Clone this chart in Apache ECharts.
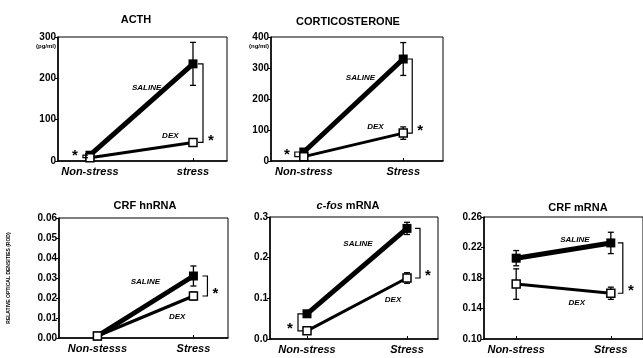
<!DOCTYPE html>
<html><head><meta charset="utf-8">
<script src="https://cdn.jsdelivr.net/npm/echarts@6/dist/echarts.min.js"></script>
<style>html,body{margin:0;padding:0;background:#fff}#c{width:643px;height:358px}</style>
</head><body><div id="c"></div>
<script>
// ---- data ----
const acthCats = ['Non-stress', 'stress'];
const acthSaline = [14, 235];
const acthSalineErr = [4, 52];
const acthDex = [8, 45];
const acthDexErr = [2, 6];

const corticoCats = ['Non-stress', 'Stress'];
const corticoSaline = [29, 329];
const corticoSalineErr = [6, 53];
const corticoDex = [14, 90];
const corticoDexErr = [4, 20];

const crfHnCats = ['Non-stesss', 'Stress'];
const crfHnSaline = [0.001, 0.031];
const crfHnSalineErr = [0.0005, 0.005];
const crfHnDex = [0.001, 0.021];
const crfHnDexErr = [0.0005, 0.002];

const cfosCats = ['Non-stress', 'Stress'];
const cfosSaline = [0.062, 0.272];
const cfosSalineErr = [0.004, 0.015];
const cfosDex = [0.020, 0.150];
const cfosDexErr = [0.003, 0.013];

const crfCats = ['Non-stress', 'Stress'];
const crfSaline = [0.206, 0.226];
const crfSalineErr = [0.010, 0.014];
const crfDex = [0.172, 0.160];
const crfDexErr = [0.020, 0.008];

// significance brackets: category index (between saline and dex values at that category)
const acthSig = [0, 1];
const corticoSig = [0, 1];
const crfHnSig = [1];
const cfosSig = [0, 1];
const crfSig = [1];

// ---- layout / style ----
const panels = [
  { title: [{text:'ACTH'}], tx: 136, ty: 14,
    grid: {left:58, top:37, width:169, height:124}, xMin:-0.31, xMax:1.33,
    yMin:0, yMax:300, yInt:100, dec:0, cats: acthCats,
    saline: acthSaline, salineErr: acthSalineErr, dex: acthDex, dexErr: acthDexErr,
    sig: acthSig, sigOff: [-7, 10], unit: '(pg/ml)',
    lab: [[0.55, 177], [0.78, 60]] },
  { title: [{text:'CORTICOSTERONE'}], tx: 348, ty: 16,
    grid: {left:271, top:37, width:172, height:124}, xMin:-0.33, xMax:1.40,
    yMin:0, yMax:400, yInt:100, dec:0, cats: corticoCats,
    saline: corticoSaline, salineErr: corticoSalineErr, dex: corticoDex, dexErr: corticoDexErr,
    sig: corticoSig, sigOff: [-9, 9], unit: '(ng/ml)',
    lab: [[0.57, 268], [0.72, 110]] },
  { title: [{text:'CRF hnRNA'}], tx: 145, ty: 200,
    grid: {left:59, top:218, width:169, height:120}, xMin:-0.40, xMax:1.36,
    yMin:0, yMax:0.06, yInt:0.01, dec:2, cats: crfHnCats,
    saline: crfHnSaline, salineErr: crfHnSalineErr, dex: crfHnDex, dexErr: crfHnDexErr,
    sig: crfHnSig, sigOff: [0, 14], yName: 'RELATIVE OPTICAL DENSITIES (ROD)',
    lab: [[0.50, 0.028], [0.83, 0.0105]] },
  { title: [{text:'c-fos', italic:true}, {text:' mRNA'}], tx: 348, ty: 200,
    grid: {left:270, top:217, width:168, height:122}, xMin:-0.37, xMax:1.31,
    yMin:0, yMax:0.3, yInt:0.1, dec:1, cats: cfosCats,
    saline: cfosSaline, salineErr: cfosSalineErr, dex: cfosDex, dexErr: cfosDexErr,
    sig: cfosSig, sigOff: [-9, 13],
    lab: [[0.51, 0.234], [0.86, 0.096]] },
  { title: [{text:'CRF mRNA'}], tx: 578, ty: 202,
    grid: {left:484, top:217, width:168, height:122}, xMin:-0.34, xMax:1.34,
    yMin:0.10, yMax:0.26, yInt:0.04, dec:2, cats: crfCats,
    saline: crfSaline, salineErr: crfSalineErr, dex: crfDex, dexErr: crfDexErr,
    sig: crfSig, sigOff: [0, 12],
    lab: [[0.62, 0.230], [0.64, 0.147]] }
];

const FONT = 'Liberation Sans, Arial, sans-serif';
const grids = [], xAxes = [], yAxes = [], series = [], graphics = [];

panels.forEach((p, k) => {
  grids.push(Object.assign({show: true, borderColor: '#000', borderWidth: 1, backgroundColor: 'transparent'}, p.grid));
  xAxes.push({
    type: 'value', gridIndex: k, min: p.xMin, max: p.xMax,
    splitLine: {show: false},
    axisLine: {show: true, onZero: false, lineStyle: {color: '#000', width: 1.5}},
    axisTick: {show: true, customValues: [0, 1], length: 3, inside: true, lineStyle: {color: '#000'}},
    axisLabel: {show: true, customValues: [0, 1], formatter: v => p.cats[Math.round(v)],
      color: '#000', fontFamily: FONT, fontWeight: 'bold', fontStyle: 'italic', fontSize: 11, margin: 5}
  });
  yAxes.push({
    type: 'value', gridIndex: k, min: p.yMin, max: p.yMax, interval: p.yInt,
    splitLine: {show: false},
    axisLine: {show: true, onZero: false, lineStyle: {color: '#000', width: 1.5}},
    axisTick: {show: true, length: 3, lineStyle: {color: '#000'}},
    axisLabel: {color: '#000', fontFamily: FONT, fontWeight: 'bold', fontSize: 10, margin: 2,
      formatter: v => v.toFixed(p.dec)},
    name: p.yName || '', nameLocation: 'middle', nameGap: 48,
    nameTextStyle: {fontSize: 5, fontWeight: 'bold', fontFamily: FONT, color: '#000'}
  });

  // error bars
  const errData = [];
  [0, 1].forEach(i => {
    errData.push([i, p.saline[i], p.salineErr[i]]);
    errData.push([i, p.dex[i], p.dexErr[i]]);
  });
  series.push({
    type: 'custom', xAxisIndex: k, yAxisIndex: k, z: 1, silent: true,
    data: errData,
    renderItem: (params, api) => {
      const x = api.value(0), y = api.value(1), e = api.value(2);
      const hi = api.coord([x, y + e]), lo = api.coord([x, y - e]);
      const st = {stroke: '#000', lineWidth: 1.3};
      return {type: 'group', children: [
        {type: 'line', shape: {x1: hi[0], y1: hi[1], x2: lo[0], y2: lo[1]}, style: st},
        {type: 'line', shape: {x1: hi[0] - 3, y1: hi[1], x2: hi[0] + 3, y2: hi[1]}, style: st},
        {type: 'line', shape: {x1: lo[0] - 3, y1: lo[1], x2: lo[0] + 3, y2: lo[1]}, style: st}
      ]};
    }
  });
  // saline
  series.push({
    type: 'line', xAxisIndex: k, yAxisIndex: k, z: 3,
    data: p.saline.map((v, i) => [i, v]),
    symbol: 'rect', symbolSize: 9, showSymbol: true,
    lineStyle: {color: '#000', width: 5}, itemStyle: {color: '#000'}
  });
  // dex
  series.push({
    type: 'line', xAxisIndex: k, yAxisIndex: k, z: 4,
    data: p.dex.map((v, i) => [i, v]),
    symbol: 'rect', symbolSize: 8, showSymbol: true,
    lineStyle: {color: '#000', width: 3},
    itemStyle: {color: '#fff', borderColor: '#000', borderWidth: 1.5}
  });
  // significance brackets
  series.push({
    type: 'custom', xAxisIndex: k, yAxisIndex: k, z: 5, silent: true,
    data: p.sig.map(i => [i, Math.max(p.saline[i], p.dex[i]), Math.min(p.saline[i], p.dex[i])]),
    renderItem: (params, api) => {
      const i = api.value(0);
      const off = p.sigOff[i];
      const dir = off >= 0 ? 1 : -1;
      const a = api.coord([i, api.value(1)]), b = api.coord([i, api.value(2)]);
      const bx = a[0] + off;
      const t = 5;
      return {type: 'group', children: [
        {type: 'polyline', shape: {points: [[bx - dir * t, a[1]], [bx, a[1]], [bx, b[1]], [bx - dir * t, b[1]]]},
          style: {stroke: '#000', lineWidth: 1.2, fill: null}},
        {type: 'text', x: bx + dir * 8, y: b[1] - 2,
          style: {text: '*', fill: '#000', font: 'bold 15px ' + FONT, align: 'center', verticalAlign: 'middle'}}
      ]};
    }
  });
  // group labels
  series.push({
    type: 'custom', xAxisIndex: k, yAxisIndex: k, z: 6, silent: true,
    data: [[p.lab[0][0], p.lab[0][1], 0], [p.lab[1][0], p.lab[1][1], 1]],
    renderItem: (params, api) => {
      const c = api.coord([api.value(0), api.value(1)]);
      return {type: 'text', x: c[0], y: c[1],
        style: {text: api.value(2) === 0 ? 'SALINE' : 'DEX', fill: '#000',
          font: 'italic bold 8px ' + FONT, align: 'center', verticalAlign: 'middle'}};
    }
  });

  // title
  const rich = {n: {fontWeight: 'bold', fontSize: 11, fontFamily: FONT, color: '#000'},
                i: {fontWeight: 'bold', fontStyle: 'italic', fontSize: 11, fontFamily: FONT, color: '#000'}};
  graphics.push({type: 'text', x: p.tx, y: p.ty,
    style: {text: p.title.map(s => '{' + (s.italic ? 'i' : 'n') + '|' + s.text + '}').join(''),
      rich: rich, align: 'center'}});
  if (p.unit) {
    graphics.push({type: 'text', x: p.grid.left - 2, y: p.grid.top + 9,
      style: {text: p.unit, fill: '#000', font: 'bold 6px ' + FONT, align: 'right', verticalAlign: 'middle'}});
  }
});

const chart = echarts.init(document.getElementById('c'), null, {renderer: 'canvas'});
chart.setOption({
  animation: false,
  backgroundColor: '#fff',
  grid: grids, xAxis: xAxes, yAxis: yAxes, series: series, graphic: graphics
});
</script></body></html>
